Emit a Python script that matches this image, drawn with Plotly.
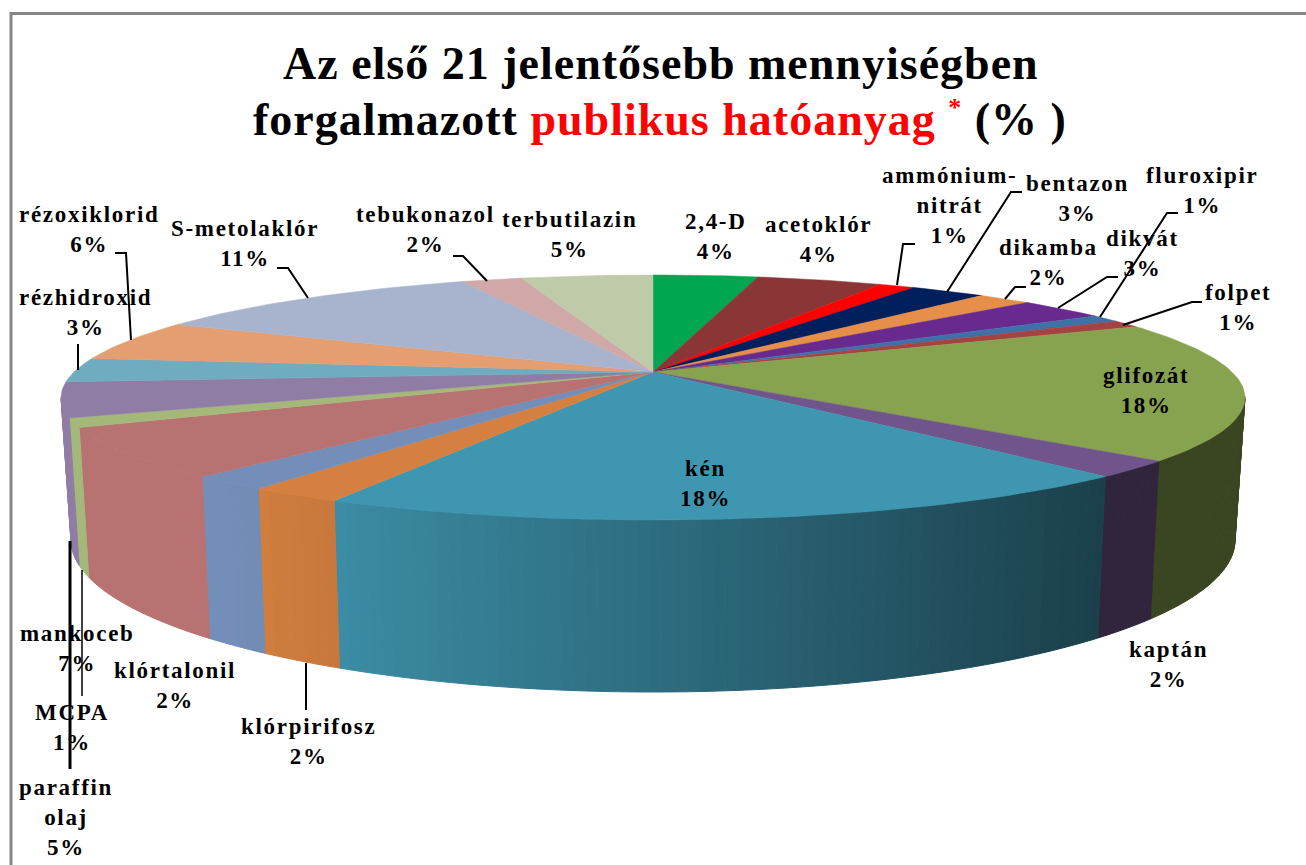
import math
import plotly.graph_objects as go

# ---- data ----
names = ["2,4-D", "acetoklór", "ammónium-<br>nitrát", "bentazon", "dikamba", "dikvát", "fluroxipir", "folpet",
         "glifozát", "kaptán", "kén", "klórpirifosz", "klórtalonil", "mankoceb", "MCPA", "paraffin<br>olaj",
         "rézhidroxid", "rézoxiklorid", "S-metolaklór", "tebukonazol", "terbutilazin"]
shares = [3.5, 4.2, 1.2, 2.5, 1.8, 2.9, 1.0, 1.0, 18.3, 2.15, 18.85, 2.15, 1.85, 6.5, 1.2, 4.6, 3.2, 5.4, 11.3, 2.0, 4.4]
labels_pct = [4, 4, 1, 3, 2, 3, 1, 1, 18, 2, 18, 2, 2, 7, 1, 5, 3, 6, 11, 2, 5]
colors = ["#00A650", "#8B3636", "#FF0000", "#001F5C", "#E68F48", "#682A8F", "#3F70A8", "#A54343",
          "#87A34F", "#70558C", "#3F96B0", "#D58040", "#738FB9", "#B87272", "#A4B87A", "#907DA5",
          "#6FACBF", "#E59E70", "#A8B4CE", "#D0A8A8", "#BFCBA8"]
label_pos = [(716, 236), (818, 239), (949, 205), (1077, 198), (1048, 262), (1142, 253), (1202, 190), (1238, 307),
             (1146, 390), (1168, 664), (705, 483), (308, 741), (175, 685), (77, 648), (72, 727), (66, 817),
             (85, 312), (89, 229), (245, 243), (425, 229), (569, 234)]
leaders = [([897, 903, 915], [285, 244, 244], 2), ([947, 1011, 1022], [292, 192, 192], 2),
           ([1005, 1015, 1026], [299, 287, 287], 2), ([1058, 1107, 1118], [308, 277, 277], 2),
           ([1100, 1167, 1178], [317, 213, 213], 2), ([1123, 1192, 1202], [325, 302, 302], 2),
           ([306, 306], [663, 710], 2), ([82, 82], [570, 696], 1.5), ([70, 70], [541, 769], 3),
           ([78, 78], [370, 344], 2), ([131, 126, 115], [340, 253, 253], 2), ([308, 288, 277], [298, 268, 268], 2),
           ([487, 463, 453], [281, 256, 256], 2)]

# ---- projection of the disc ----
CX, CY, A, B, K = 653.0, 372.0, 117.2, 579.0, 0.208
ELL_Y, ELL_RX, ELL_RY = 397.5, 592.0, 122.5
BOT_Y, BOT_RX, BOT_RY = 540.0, 582.0, 152.0


def top_point(theta):
    u, v = math.sin(theta), -math.cos(theta)
    d = 1 - K * v
    return CX + B * u / d, CY + A * v / d


def bottom_point(px, py):
    t = math.atan2((py - ELL_Y) / ELL_RY, (px - CX) / ELL_RX)
    return CX + BOT_RX * math.cos(t), BOT_Y + BOT_RY * math.sin(t), math.sin(t)


def shade(hex_c, f):
    r, g, b = (int(hex_c[i:i + 2], 16) for i in (1, 3, 5))
    return f"rgb({r * f:.0f},{g * f:.0f},{b * f:.0f})"


def wall_factor(x):
    if x <= 220:
        return 1.0
    if x <= 340:
        return 1.0 - (x - 220) / 120 * 0.07
    if x >= 1100:
        return 0.43
    return 0.93 - (x - 340) / 760 * 0.50


fig = go.Figure()
total = sum(shares)
cum = 0.0
tops = []
for name, val, col in zip(names, shares, colors):
    a0 = cum / total * 2 * math.pi
    cum += val
    a1 = cum / total * 2 * math.pi
    n = max(3, int((a1 - a0) / math.radians(1.0)))
    thetas = [a0 + (a1 - a0) * i / n for i in range(n + 1)]
    pts = [top_point(t) for t in thetas]
    tops.append((name, col, pts))
    for p, q in zip(pts[:-1], pts[1:]):
        bp = bottom_point(*p)
        bq = bottom_point(*q)
        if bp[2] < 0 and bq[2] < 0:
            continue
        c = shade(col, wall_factor((p[0] + q[0]) / 2))
        fig.add_trace(go.Scatter(x=[p[0], q[0], bq[0], bp[0], p[0]], y=[p[1], q[1], bq[1], bp[1], p[1]],
                                 mode="lines", fill="toself", fillcolor=c, line=dict(color=c, width=1),
                                 hoverinfo="skip", showlegend=False))

for name, col, pts in tops:
    xs = [CX] + [p[0] for p in pts] + [CX]
    ys = [CY] + [p[1] for p in pts] + [CY]
    fig.add_trace(go.Scatter(x=xs, y=ys, mode="lines", fill="toself", fillcolor=col,
                             line=dict(color=col, width=0.5), name=name.replace("<br>", " "),
                             hoverinfo="name", showlegend=False))

for lx, ly, w in leaders:
    fig.add_trace(go.Scatter(x=lx, y=ly, mode="lines", line=dict(color="black", width=w),
                             hoverinfo="skip", showlegend=False))

FONT = "Liberation Serif"
annotations = []
for name, pct, (x, y) in zip(names, labels_pct, label_pos):
    annotations.append(dict(x=x, y=y, xref="x", yref="y",
                            text=f"<b><span style='letter-spacing:1.7px'>{name}<br>{pct}%</span></b>",
                            showarrow=False,
                            font=dict(family=FONT, size=23, color="black"), align="center",
                            xanchor="center", yanchor="middle"))
annotations.append(dict(x=661, y=63, xref="x", yref="y",
                        text="<b><span style='letter-spacing:1px'>Az első 21 jelentősebb mennyiségben</span></b>",
                        showarrow=False, font=dict(family=FONT, size=46, color="black"),
                        xanchor="center", yanchor="middle"))
annotations.append(dict(x=660, y=119, xref="x", yref="y",
                        text="<b><span style='letter-spacing:1px'>forgalmazott <span style='color:#FF0000'>publikus hatóanyag <sup><span style='font-size:26px'>*</span></sup></span> (% )</span></b>",
                        showarrow=False, font=dict(family=FONT, size=46, color="black"),
                        xanchor="center", yanchor="middle"))

fig.update_layout(
    width=1306, height=865, margin=dict(l=0, r=0, t=0, b=0), paper_bgcolor="white", plot_bgcolor="white",
    xaxis=dict(range=[0, 1306], visible=False, fixedrange=True),
    yaxis=dict(range=[865, 0], visible=False, fixedrange=True),
    annotations=annotations,
    shapes=[dict(type="line", xref="x", yref="y", x0=10, x1=1306, y0=13.5, y1=13.5, line=dict(color="#868686", width=3)),
            dict(type="line", xref="x", yref="y", x0=11, x1=11, y0=12, y1=865, line=dict(color="#868686", width=3))],
)
fig.write_html("out.html", config=dict(displayModeBar=False),
               post_script="document.body.style.margin='0';document.body.style.overflow='hidden';")
